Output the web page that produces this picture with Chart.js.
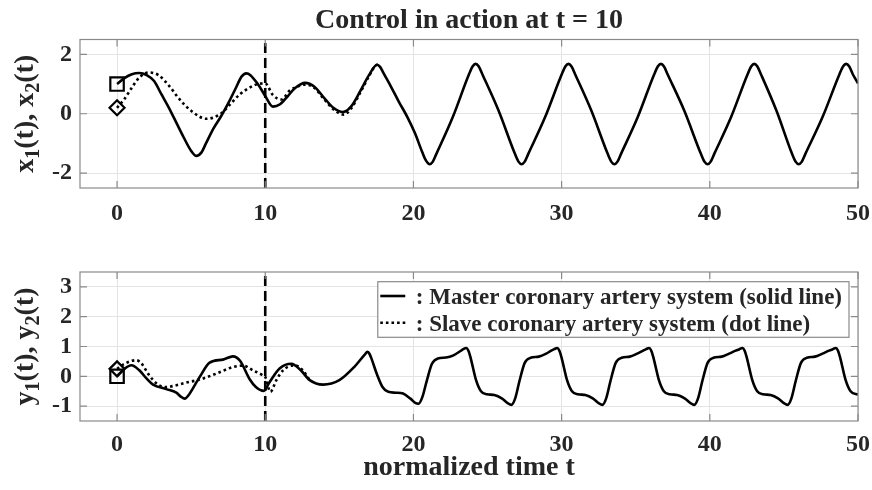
<!DOCTYPE html>
<html>
<head>
<meta charset="utf-8">
<title>Control in action at t = 10</title>
<script src="https://cdn.jsdelivr.net/npm/chart.js@4.4.1/dist/chart.umd.min.js"></script>
<style>
  html, body { margin: 0; padding: 0; background: #fff; }
  #wrap { position: relative; width: 872px; height: 490px; }
  canvas { position: absolute; left: 0; }
  #top { top: 0; }
  #bottom { top: 240px; }
</style>
</head>
<body>
<div id="wrap">
  <canvas id="top" width="872" height="240"></canvas>
  <canvas id="bottom" width="872" height="250"></canvas>
</div>
<script>
// axes
const timeRange = [-2.5, 50];
const topRange = [-2.5, 2.5];
const bottomRange = [-1.5, 3.5];
const xTicks = [0, 10, 20, 30, 40, 50];
const topTicks = [-2, 0, 2];
const bottomTicks = [-1, 0, 1, 2, 3];
const controlTime = 10;

// master x1(t) (solid line, top panel)
const tX1 = [0, 0.5, 1, 1.5, 2, 2.5, 3, 3.5, 4, 4.5, 5, 5.35, 5.7, 6, 6.5, 7, 7.5, 8, 8.4, 8.72,
  9, 9.5, 10, 10.52, 11, 11.5, 12, 12.7, 13.3, 14, 14.6, 15.24, 15.8, 16.4, 17,
  17.55, 17.75, 18, 18.5, 19, 19.6, 20.1, 20.6, 20.85, 21.1,
  21.3, 21.55, 22.65, 23.75, 24, 24.2,
  24.4, 24.65, 25.75, 26.85, 27.1, 27.3,
  27.5, 27.75, 28.88, 30.01, 30.26, 30.46,
  30.66, 30.91, 32.01, 33.11, 33.36, 33.56,
  33.76, 34.01, 35.13, 36.25, 36.5, 36.7,
  36.9, 37.15, 38.28, 39.4, 39.65, 39.85,
  40.05, 40.3, 41.43, 42.55, 42.8, 43,
  43.2, 43.45, 44.5, 45.55, 45.8, 46,
  46.2, 46.45, 47.6, 48.75, 49, 49.2,
  49.4, 49.65, 50];
const x1 = [1.0, 1.2, 1.33, 1.37, 1.3, 1.1, 0.65, 0.2, -0.3, -0.8, -1.25, -1.42, -1.3, -1.0, -0.5, -0.1, 0.35, 0.85, 1.25, 1.36,
  1.3, 1.0, 0.6, 0.24, 0.32, 0.58, 0.86, 1.04, 0.92, 0.52, 0.2, 0.06, 0.25, 0.75, 1.3,
  1.65, 1.58, 1.35, 0.9, 0.42, -0.12, -0.65, -1.3, -1.58, -1.7,
  -1.62, -1.35, -0.12, 1.33, 1.6, 1.68,
  1.6, 1.33, 0.1, -1.35, -1.62, -1.7,
  -1.62, -1.35, -0.12, 1.33, 1.6, 1.68,
  1.6, 1.33, 0.1, -1.35, -1.62, -1.7,
  -1.62, -1.35, -0.12, 1.33, 1.6, 1.68,
  1.6, 1.33, 0.1, -1.35, -1.62, -1.7,
  -1.62, -1.35, -0.12, 1.33, 1.6, 1.68,
  1.6, 1.33, 0.1, -1.35, -1.62, -1.7,
  -1.62, -1.35, -0.12, 1.33, 1.6, 1.68,
  1.6, 1.33, 1.02];

// slave x2(t) (dot line, top panel) - joins the master after ~t = 17.5
const tX2 = [0, 0.5, 1, 1.5, 2.16, 2.8, 3.5, 4.2, 5, 6.03, 7, 7.6, 8.3, 8.95, 9.5, 10, 10.52, 11.09, 11.65, 12,
  12.7, 13.3, 14, 14.6, 15.3, 15.8, 16.4, 17, 17.55, 17.75];
const x2 = [0.2, 0.5, 0.88, 1.22, 1.39, 1.3, 0.95, 0.5, 0.1, -0.17, 0.0, 0.3, 0.66, 0.88, 1.0, 1.02, 0.63, 0.48, 0.78, 0.88,
  0.98, 0.88, 0.47, 0.15, -0.03, 0.18, 0.7, 1.26, 1.65, 1.58];

// master y1(t) (solid line, bottom panel)
const tY1 = [0, 0.5, 0.97, 1.5, 2, 2.43, 3.33, 4, 4.3, 4.57, 4.85, 5.1, 5.58, 6.25, 7.15, 7.82, 8.3, 8.95, 9.35, 9.9,
  10.3, 10.97, 11.76, 12.4, 13, 13.9, 15, 16, 16.7, 16.9, 17.05, 17.2, 17.55, 17.9, 18.3, 18.8, 19.3, 19.8, 20.15, 20.35,
  20.6, 20.9, 21.25, 21.65, 22.2, 22.7, 23.15, 23.36, 23.56,
  23.71, 23.86, 24.21, 24.56, 24.96, 25.46, 25.96, 26.36, 26.61, 26.86, 27.16, 27.51, 27.91, 28.46, 28.96, 29.3, 29.5, 29.7,
  29.85, 30, 30.35, 30.7, 31.1, 31.6, 32.1, 32.5, 32.75, 33, 33.3, 33.65, 34.05, 34.6, 35.1, 35.5, 35.7, 35.9,
  36.05, 36.2, 36.55, 36.9, 37.3, 37.8, 38.3, 38.7, 38.95, 39.2, 39.5, 39.85, 40.25, 40.8, 41.3, 41.75, 42, 42.2,
  42.35, 42.5, 42.85, 43.2, 43.6, 44.1, 44.6, 45, 45.25, 45.5, 45.8, 46.15, 46.55, 47.1, 47.6, 48.05, 48.3, 48.5,
  48.65, 48.8, 49.15, 49.5, 50];
const y1 = [0.0, 0.25, 0.37, 0.2, -0.08, -0.28, -0.43, -0.55, -0.68, -0.75, -0.62, -0.42, -0.02, 0.46, 0.56, 0.67, 0.52, -0.1, -0.35, -0.49,
  -0.19, 0.26, 0.42, 0.2, -0.13, -0.28, -0.13, 0.31, 0.72, 0.82, 0.74, 0.55, 0.05, -0.35, -0.52, -0.55, -0.58, -0.75, -0.9, -0.92,
  -0.7, -0.15, 0.42, 0.6, 0.63, 0.7, 0.84, 0.91, 0.95,
  0.86, 0.62, -0.1, -0.5, -0.6, -0.63, -0.74, -0.9, -0.96, -0.75, -0.15, 0.45, 0.62, 0.66, 0.76, 0.86, 0.91, 0.95,
  0.86, 0.62, -0.1, -0.5, -0.6, -0.63, -0.74, -0.9, -0.96, -0.75, -0.15, 0.45, 0.62, 0.66, 0.76, 0.86, 0.91, 0.95,
  0.86, 0.62, -0.1, -0.5, -0.6, -0.63, -0.74, -0.9, -0.96, -0.75, -0.15, 0.45, 0.62, 0.66, 0.76, 0.86, 0.91, 0.95,
  0.86, 0.62, -0.1, -0.5, -0.6, -0.63, -0.74, -0.9, -0.96, -0.75, -0.15, 0.45, 0.62, 0.66, 0.76, 0.86, 0.91, 0.95,
  0.86, 0.62, -0.1, -0.5, -0.62];

// slave y2(t) (dot line, bottom panel) - joins the master after ~t = 13
const tY2 = [0, 0.5, 1.3, 1.7, 2.09, 2.76, 3.33, 4, 4.68, 5.58, 6.7, 7.82, 8.5, 9.17, 9.85, 10, 10.35, 10.75, 11.2, 11.98,
  12.5, 13];
const y2 = [0.25, 0.42, 0.54, 0.4, 0.09, -0.28, -0.36, -0.3, -0.21, -0.11, 0.09, 0.31, 0.36, 0.2, 0.03, -0.02, -0.52, -0.13, 0.2, 0.37,
  0.22, -0.13];

const legendLabels = [': Master coronary artery system (solid line)', ': Slave coronary artery system (dot line)'];

const SERIF = '"Liberation Serif", "Times New Roman", serif';
const INK = '#262626';
const GRID = '#e4e4e4';
const BOX = '#8a8a8a';

function points(ts, vs) {
  return ts.map((t, i) => ({ x: t, y: vs[i] }));
}

function curve(ts, vs, dotted) {
  return {
    data: points(ts, vs),
    borderColor: '#000',
    borderWidth: 2.6,
    borderDash: dotted ? [2.6, 3] : [],
    pointRadius: 0,
    cubicInterpolationMode: 'monotone',
    fill: false
  };
}

function marker(t, v, style, r) {
  return {
    data: [{ x: t, y: v }],
    showLine: false,
    pointStyle: style,
    pointRadius: r,
    borderColor: '#000',
    borderWidth: 2.2,
    backgroundColor: 'rgba(0,0,0,0)'
  };
}

function controlLine(range) {
  return {
    data: [{ x: controlTime, y: range[0] }, { x: controlTime, y: range[1] }],
    borderColor: '#000',
    borderWidth: 2.6,
    borderDash: [10, 5],
    pointRadius: 0
  };
}

// axis box, inward ticks, labels with subscripts, title, legend
const decorations = {
  id: 'decorations',
  afterDraw(chart, args, opts) {
    const { ctx, chartArea: a, scales } = chart;
    ctx.save();

    ctx.strokeStyle = BOX;
    ctx.lineWidth = 1.2;
    ctx.strokeRect(a.left, a.top, a.right - a.left, a.bottom - a.top);
    ctx.beginPath();
    scales.x.ticks.forEach(tk => {
      const px = scales.x.getPixelForValue(tk.value);
      ctx.moveTo(px, a.bottom); ctx.lineTo(px, a.bottom - 7);
      ctx.moveTo(px, a.top); ctx.lineTo(px, a.top + 7);
    });
    scales.y.ticks.forEach(tk => {
      const py = scales.y.getPixelForValue(tk.value);
      ctx.moveTo(a.left, py); ctx.lineTo(a.left + 7, py);
      ctx.moveTo(a.right, py); ctx.lineTo(a.right - 7, py);
    });
    ctx.stroke();

    ctx.fillStyle = INK;
    const main = 'bold 28px ' + SERIF;
    const small = 'bold 20px ' + SERIF;

    // y label, rotated, with subscripts
    let total = 0;
    opts.yLabel.forEach(p => { ctx.font = p.sub ? small : main; total += ctx.measureText(p.text).width; });
    ctx.translate(33, (a.top + a.bottom) / 2);
    ctx.rotate(-Math.PI / 2);
    ctx.textBaseline = 'alphabetic';
    ctx.textAlign = 'left';
    let cx = -total / 2;
    opts.yLabel.forEach(p => {
      ctx.font = p.sub ? small : main;
      ctx.fillText(p.text, cx, p.sub ? 6 : 0);
      cx += ctx.measureText(p.text).width;
    });
    ctx.setTransform(1, 0, 0, 1, 0, 0);

    ctx.font = main;
    ctx.textAlign = 'center';
    if (opts.title) ctx.fillText(opts.title, (a.left + a.right) / 2, 28);
    if (opts.xLabel) ctx.fillText(opts.xLabel, (a.left + a.right) / 2, 235);

    if (opts.legend) {
      ctx.font = 'bold 23px ' + SERIF;
      const w = Math.max(...legendLabels.map(s => ctx.measureText(s).width));
      const bw = 38 + w + 7;
      const bl = a.right - 9 - bw;
      const bt = a.top + 9.7;
      ctx.fillStyle = '#fff';
      ctx.fillRect(bl, bt, bw, 55.6);
      ctx.strokeStyle = BOX;
      ctx.lineWidth = 1.2;
      ctx.strokeRect(bl, bt, bw, 55.6);
      ctx.strokeStyle = '#000';
      ctx.lineWidth = 2.6;
      [[14.3, []], [41, [2.6, 3]]].forEach(([dy, dash]) => {
        ctx.setLineDash(dash);
        ctx.beginPath();
        ctx.moveTo(bl + 2.5, bt + dy);
        ctx.lineTo(bl + 27.5, bt + dy);
        ctx.stroke();
      });
      ctx.setLineDash([]);
      ctx.fillStyle = INK;
      ctx.textAlign = 'left';
      ctx.fillText(legendLabels[0], bl + 38, bt + 22.3);
      ctx.fillText(legendLabels[1], bl + 38, bt + 49);
    }
    ctx.restore();
  }
};

function makeChart(id, datasets, range, yTicks, padTop, xAxisHeight, xTickPad, deco) {
  const tickFont = { family: SERIF, size: 24, weight: 'bold' };
  return new Chart(document.getElementById(id), {
    type: 'line',
    data: { datasets: datasets },
    options: {
      responsive: false,
      animation: false,
      events: [],
      layout: { padding: { top: padTop, right: 14, left: 0, bottom: 0 } },
      scales: {
        x: {
          type: 'linear',
          min: timeRange[0],
          max: timeRange[1],
          afterBuildTicks: s => { s.ticks = xTicks.map(v => ({ value: v })); },
          afterFit: s => { s.height = xAxisHeight; s.paddingLeft = 0; s.paddingRight = 0; },
          grid: { color: GRID, drawTicks: false },
          border: { display: false },
          ticks: { color: INK, font: tickFont, padding: xTickPad, autoSkip: false, maxRotation: 0 }
        },
        y: {
          min: range[0],
          max: range[1],
          afterBuildTicks: s => { s.ticks = yTicks.map(v => ({ value: v })); },
          afterFit: s => { s.width = 80; s.paddingTop = 0; s.paddingBottom = 0; },
          grid: { color: GRID, drawTicks: false },
          border: { display: false },
          ticks: { color: INK, font: tickFont, padding: 8 }
        }
      },
      plugins: {
        legend: { display: false },
        tooltip: { enabled: false },
        decorations: deco
      }
    },
    plugins: [decorations]
  });
}

makeChart('top', [
  marker(tX1[0], x1[0], 'rect', 9.5),
  marker(tX2[0], x2[0], 'rectRot', 7.5),
  curve(tX1, x1, false),
  curve(tX2, x2, true),
  controlLine(topRange)
], topRange, topTicks, 39.5, 52, 11, {
  title: 'Control in action at t = 10',
  yLabel: [{ text: 'x' }, { text: '1', sub: true }, { text: '(t), x' }, { text: '2', sub: true }, { text: '(t)' }]
});

makeChart('bottom', [
  marker(tY1[0], y1[0], 'rect', 9.5),
  marker(tY2[0], y2[0], 'rectRot', 7.5),
  curve(tY1, y1, false),
  curve(tY2, y2, true),
  controlLine(bottomRange)
], bottomRange, bottomTicks, 32, 69, 9, {
  xLabel: 'normalized time t',
  legend: true,
  yLabel: [{ text: 'y' }, { text: '1', sub: true }, { text: '(t), y' }, { text: '2', sub: true }, { text: '(t)' }]
});
</script>
</body>
</html>
